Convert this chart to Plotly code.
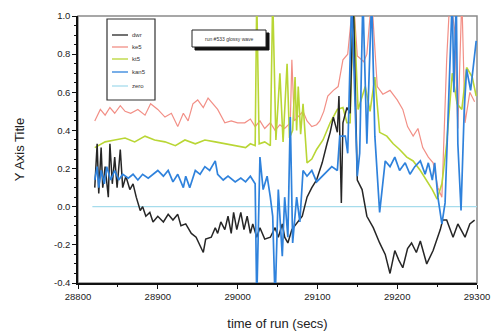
import plotly.graph_objects as go

# ---- run data: time of run (s) and signal for each channel ----
dwr_t = [28821, 28824, 28826, 28829, 28831, 28834, 28838, 28840, 28843, 28846,
         28849, 28853, 28856, 28860, 28865, 28869, 28873, 28878, 28881, 28885,
         28890, 28894, 28900, 28907, 28913, 28919, 28925, 28929, 28935, 28942,
         28948, 28953, 28957, 28960, 28967, 28972, 28975, 28979, 28984, 28988,
         28992, 28995, 28999, 29004, 29008, 29012, 29016, 29019, 29024, 29028,
         29034, 29041, 29047, 29051, 29056, 29059, 29063, 29068, 29074, 29081,
         29087, 29093, 29099, 29106, 29112, 29116, 29120, 29125, 29127, 29130,
         29132, 29137, 29141, 29145, 29150, 29156, 29162, 29170, 29178, 29185,
         29191, 29197, 29202, 29207, 29213, 29218, 29224, 29229, 29237, 29245,
         29254, 29257, 29262, 29270, 29276, 29285, 29291, 29297]
dwr_v = [0.10, 0.33, 0.07, 0.31, 0.10, 0.21, 0.05, 0.33, 0.12, 0.26,
         0.10, 0.30, 0.10, 0.16, 0.09, 0.12, 0.05, -0.02, 0.00, -0.05,
         -0.03, -0.08, -0.05, -0.08, -0.04, -0.07, -0.04, -0.10, -0.09, -0.14,
         -0.16, -0.21, -0.24, -0.17, -0.16, -0.11, -0.14, -0.08, -0.12, -0.05,
         -0.14, -0.03, -0.12, -0.03, -0.12, -0.05, -0.14, -0.09, -0.16, -0.11,
         -0.17, -0.16, -0.11, -0.16, -0.09, -0.16, -0.19, -0.12, -0.09, -0.05,
         0.05, 0.10, 0.14, 0.23, 0.33, 0.39, 0.47, 0.39, 0.58, 0.02,
         0.44, 0.52, 0.49, 1.10, 0.14, 0.09, -0.05, -0.11, -0.19, -0.25,
         -0.35, -0.23, -0.28, -0.32, -0.22, -0.19, -0.24, -0.18, -0.30, -0.23,
         -0.12, -0.07, -0.07, -0.16, -0.09, -0.16, -0.09, -0.07]

ke5_t = [28821, 28828, 28834, 28840, 28846, 28853, 28859, 28866, 28875, 28884,
         28891, 28900, 28909, 28917, 28925, 28932, 28938, 28944, 28950, 28957,
         28963, 28969, 28975, 28984, 28992, 29000, 29009, 29016, 29022, 29028,
         29034, 29041, 29047, 29053, 29059, 29066, 29068, 29071, 29078, 29082,
         29087, 29093, 29099, 29103, 29108, 29113, 29120, 29126, 29132, 29138,
         29145, 29150, 29153, 29158, 29162, 29168, 29175, 29182, 29191, 29200,
         29207, 29213, 29220, 29226, 29232, 29239, 29245, 29251, 29256, 29262,
         29266, 29272, 29276, 29281, 29285, 29291, 29297]
ke5_v = [0.45, 0.51, 0.48, 0.52, 0.49, 0.53, 0.50, 0.49, 0.51, 0.48,
         0.54, 0.51, 0.47, 0.49, 0.42, 0.49, 0.45, 0.54, 0.56, 0.52,
         0.57, 0.54, 0.51, 0.44, 0.45, 0.44, 0.44, 0.46, 0.42, 0.45,
         0.41, 0.44, 0.40, 0.43, 0.41, 0.44, 0.77, 0.45, 0.48, 0.50,
         0.45, 0.42, 0.43, 0.45, 0.50, 0.58, 0.61, 0.63, 0.77, 0.80,
         1.10, 0.79, 0.78, 0.76, 0.80, 1.10, 0.63, 0.59, 0.61, 0.56,
         0.51, 0.42, 0.37, 0.41, 0.31, 0.26, 0.23, 0.10, 0.05, 0.77,
         1.10, 0.93, 0.41, 1.10, 0.44, 0.60, 0.55]

kt5_t = [28821, 28834, 28846, 28859, 28871, 28884, 28896, 28909, 28922, 28934,
         28947, 28959, 28972, 28984, 28997, 29010, 29016, 29022, 29024, 29027,
         29034, 29041, 29044, 29048, 29053, 29057, 29062, 29065, 29069, 29072,
         29074, 29076, 29079, 29082, 29087, 29093, 29099, 29107, 29116, 29125,
         29132, 29137, 29141, 29145, 29151, 29160, 29166, 29172, 29178, 29187,
         29195, 29203, 29212, 29220, 29229, 29237, 29244, 29250, 29256, 29262,
         29269, 29275, 29281, 29287, 29294, 29299]
kt5_v = [0.31, 0.34, 0.35, 0.36, 0.34, 0.37, 0.35, 0.34, 0.32, 0.35,
         0.33, 0.35, 0.34, 0.33, 0.32, 0.31, 0.33, 0.32, 1.10, 0.33,
         0.34, 0.32, 1.10, 0.35, 0.70, 0.34, 0.75, 0.36, 0.40, 0.68,
         0.40, 0.63, 0.38, 0.54, 0.23, 0.25, 0.30, 0.35, 0.44, 0.51,
         0.52, 0.44, 0.44, 1.10, 0.51, 0.63, 0.50, 0.68, 0.39, 0.37,
         0.33, 0.30, 0.26, 0.24, 0.19, 0.14, 0.09, 0.04, 0.12, 0.33,
         0.70, 0.54, 0.51, 0.73, 0.68, 0.58]

kan5_t = [28821, 28824, 28826, 28829, 28833, 28836, 28841, 28846, 28851, 28856,
          28863, 28869, 28875, 28881, 28888, 28894, 28900, 28907, 28913, 28919,
          28925, 28932, 28935, 28940, 28947, 28953, 28959, 28965, 28972, 28975,
          28982, 28988, 28997, 29004, 29010, 29016, 29022, 29024, 29028, 29032,
          29037, 29041, 29044, 29047, 29051, 29056, 29059, 29063, 29066, 29069,
          29074, 29078, 29082, 29087, 29093, 29099, 29106, 29112, 29118, 29125,
          29128, 29135, 29138, 29143, 29150, 29153, 29157, 29162, 29168, 29172,
          29178, 29185, 29191, 29197, 29203, 29210, 29216, 29222, 29229, 29235,
          29239, 29244, 29247, 29251, 29256, 29260, 29264, 29269, 29271, 29274,
          29276, 29280, 29284, 29287, 29292, 29295, 29299]
kan5_v = [0.14, 0.21, 0.10, 0.19, 0.12, 0.21, 0.14, 0.19, 0.14, 0.17,
          0.15, 0.17, 0.14, 0.17, 0.15, 0.17, 0.19, 0.16, 0.19, 0.13,
          0.17, 0.10, 0.16, 0.10, 0.19, 0.17, 0.21, 0.19, 0.24, 0.17,
          0.14, 0.16, 0.13, 0.15, 0.13, 0.16, 0.12, -0.50, 0.26, 0.09,
          0.16, 0.05, -0.05, -0.50, 0.09, -0.26, 0.05, -0.16, 0.47, -0.19,
          0.05, -0.08, 0.19, 0.16, 0.19, 0.13, 0.16, 0.19, 0.21, 0.19,
          0.37, 0.37, 0.28, 1.10, 0.16, 0.28, 1.10, 0.33, 1.10, 0.37,
          -0.03, 0.24, 0.21, 0.26, 0.19, 0.23, 0.17, 0.21, 0.24, 0.17,
          0.23, 0.14, 0.23, 0.05, -0.09, 0.02, 0.54, 1.10, 0.60, 1.10,
          0.33, -0.02, 0.51, 0.72, 0.61, 0.73, 0.87]

zero_t = [28818, 29300]
zero_v = [0.0, 0.0]

series_names = ["dwr", "ke5", "kt5", "kan5", "zero"]

x_ticks = [28800, 28900, 29000, 29100, 29200, 29300]
x_tick_labels = ["28800", "28900", "29000", "29100", "29200", "29300"]
y_ticks = [-0.4, -0.2, 0.0, 0.2, 0.4, 0.6, 0.8, 1.0]
y_tick_labels = ["-0.4", "-0.2", "0.0", "0.2", "0.4", "0.6", "0.8", "1.0"]

colors = {
    "dwr": "#262626",
    "ke5": "#f28f86",
    "kt5": "#b9d635",
    "kan5": "#2f82dc",
    "zero": "#a6dcec",
}
widths = {"dwr": 1.5, "ke5": 1.2, "kt5": 1.6, "kan5": 1.7, "zero": 1.3}

data = {
    "dwr": (dwr_t, dwr_v),
    "ke5": (ke5_t, ke5_v),
    "kt5": (kt5_t, kt5_v),
    "kan5": (kan5_t, kan5_v),
    "zero": (zero_t, zero_v),
}

FONT = "Liberation Sans, Arial, sans-serif"

fig = go.Figure()
for name in ["zero", "ke5", "kt5", "dwr", "kan5"]:
    t, v = data[name]
    fig.add_trace(go.Scatter(
        x=t, y=v, mode="lines", name=name, showlegend=False,
        line=dict(color=colors[name], width=widths[name]),
    ))

# plot area geometry in pixels (for the inset legend and note box)
W, H = 504, 332
L, R, T, B = 78, 27, 16, 49
PW, PH = W - L - R, H - T - B


def px(xp):
    return (xp - L) / PW


def py(yp):
    return (H - B - yp) / PH


shapes = [
    # grey frame around the plotting area
    dict(type="rect", xref="paper", yref="paper", x0=0, y0=0, x1=1, y1=1,
         line=dict(color="#8a8a8a", width=1.5), layer="below"),
    # inset legend box
    dict(type="rect", xref="paper", yref="paper",
         x0=px(107), x1=px(155), y0=py(100), y1=py(19),
         line=dict(color="#333333", width=1.2), fillcolor="white", layer="above"),
    # note box with drop shadow
    dict(type="rect", xref="paper", yref="paper",
         x0=px(195), x1=px(269), y0=py(50), y1=py(33),
         line=dict(color="#111111", width=1), fillcolor="#111111", layer="above"),
    dict(type="rect", xref="paper", yref="paper",
         x0=px(192), x1=px(266), y0=py(47), y1=py(30),
         line=dict(color="#222222", width=1), fillcolor="white", layer="above"),
]

annotations = []
legend_rows = [35, 47, 59, 72, 86]
for name, yrow in zip(series_names, legend_rows):
    shapes.append(dict(type="line", xref="paper", yref="paper",
                       x0=px(112), x1=px(128), y0=py(yrow), y1=py(yrow),
                       line=dict(color=colors[name], width=1.3), layer="above"))
    annotations.append(dict(xref="paper", yref="paper", x=px(130), y=py(yrow),
                            text=name, showarrow=False, xanchor="left",
                            yanchor="middle",
                            font=dict(family=FONT, size=6, color="#333333")))

annotations.append(dict(xref="paper", yref="paper", x=px(229), y=py(38.5),
                        text="run #533 glossy wave", showarrow=False,
                        xanchor="center", yanchor="middle",
                        font=dict(family=FONT, size=5, color="#333333")))

fig.update_layout(
    width=W, height=H,
    margin=dict(l=L, r=R, t=T, b=B, pad=0, autoexpand=False),
    paper_bgcolor="white", plot_bgcolor="white",
    showlegend=False,
    shapes=shapes,
    annotations=annotations,
    font=dict(family=FONT, color="#333333"),
)

fig.update_xaxes(
    range=[28800, 29300], automargin=False,
    tickvals=x_ticks, ticktext=x_tick_labels,
    ticks="outside", ticklen=4, tickwidth=1, tickcolor="#111111",
    minor=dict(dtick=50, tick0=28800, ticks="outside", ticklen=2,
               tickcolor="#111111", showgrid=False),
    showline=True, linecolor="#111111", linewidth=1.5,
    showgrid=False, zeroline=False,
    tickfont=dict(family=FONT, size=9.5, color="#222222"),
    title=dict(text="time of run (secs)", standoff=18,
               font=dict(family=FONT, size=13, color="#222222")),
)

fig.update_yaxes(
    range=[-0.4, 1.0], automargin=False,
    tickvals=y_ticks, ticktext=y_tick_labels,
    ticks="outside", ticklen=4, tickwidth=1, tickcolor="#111111",
    minor=dict(dtick=0.05, tick0=0, ticks="outside", ticklen=2,
               tickcolor="#111111", showgrid=False),
    showline=True, linecolor="#111111", linewidth=1.5,
    showgrid=False, zeroline=False,
    tickfont=dict(family=FONT, size=9.5, color="#222222"),
    title=dict(text="Y Axis Title", standoff=26,
               font=dict(family=FONT, size=13, color="#222222")),
)

fig.write_html("out.html")
